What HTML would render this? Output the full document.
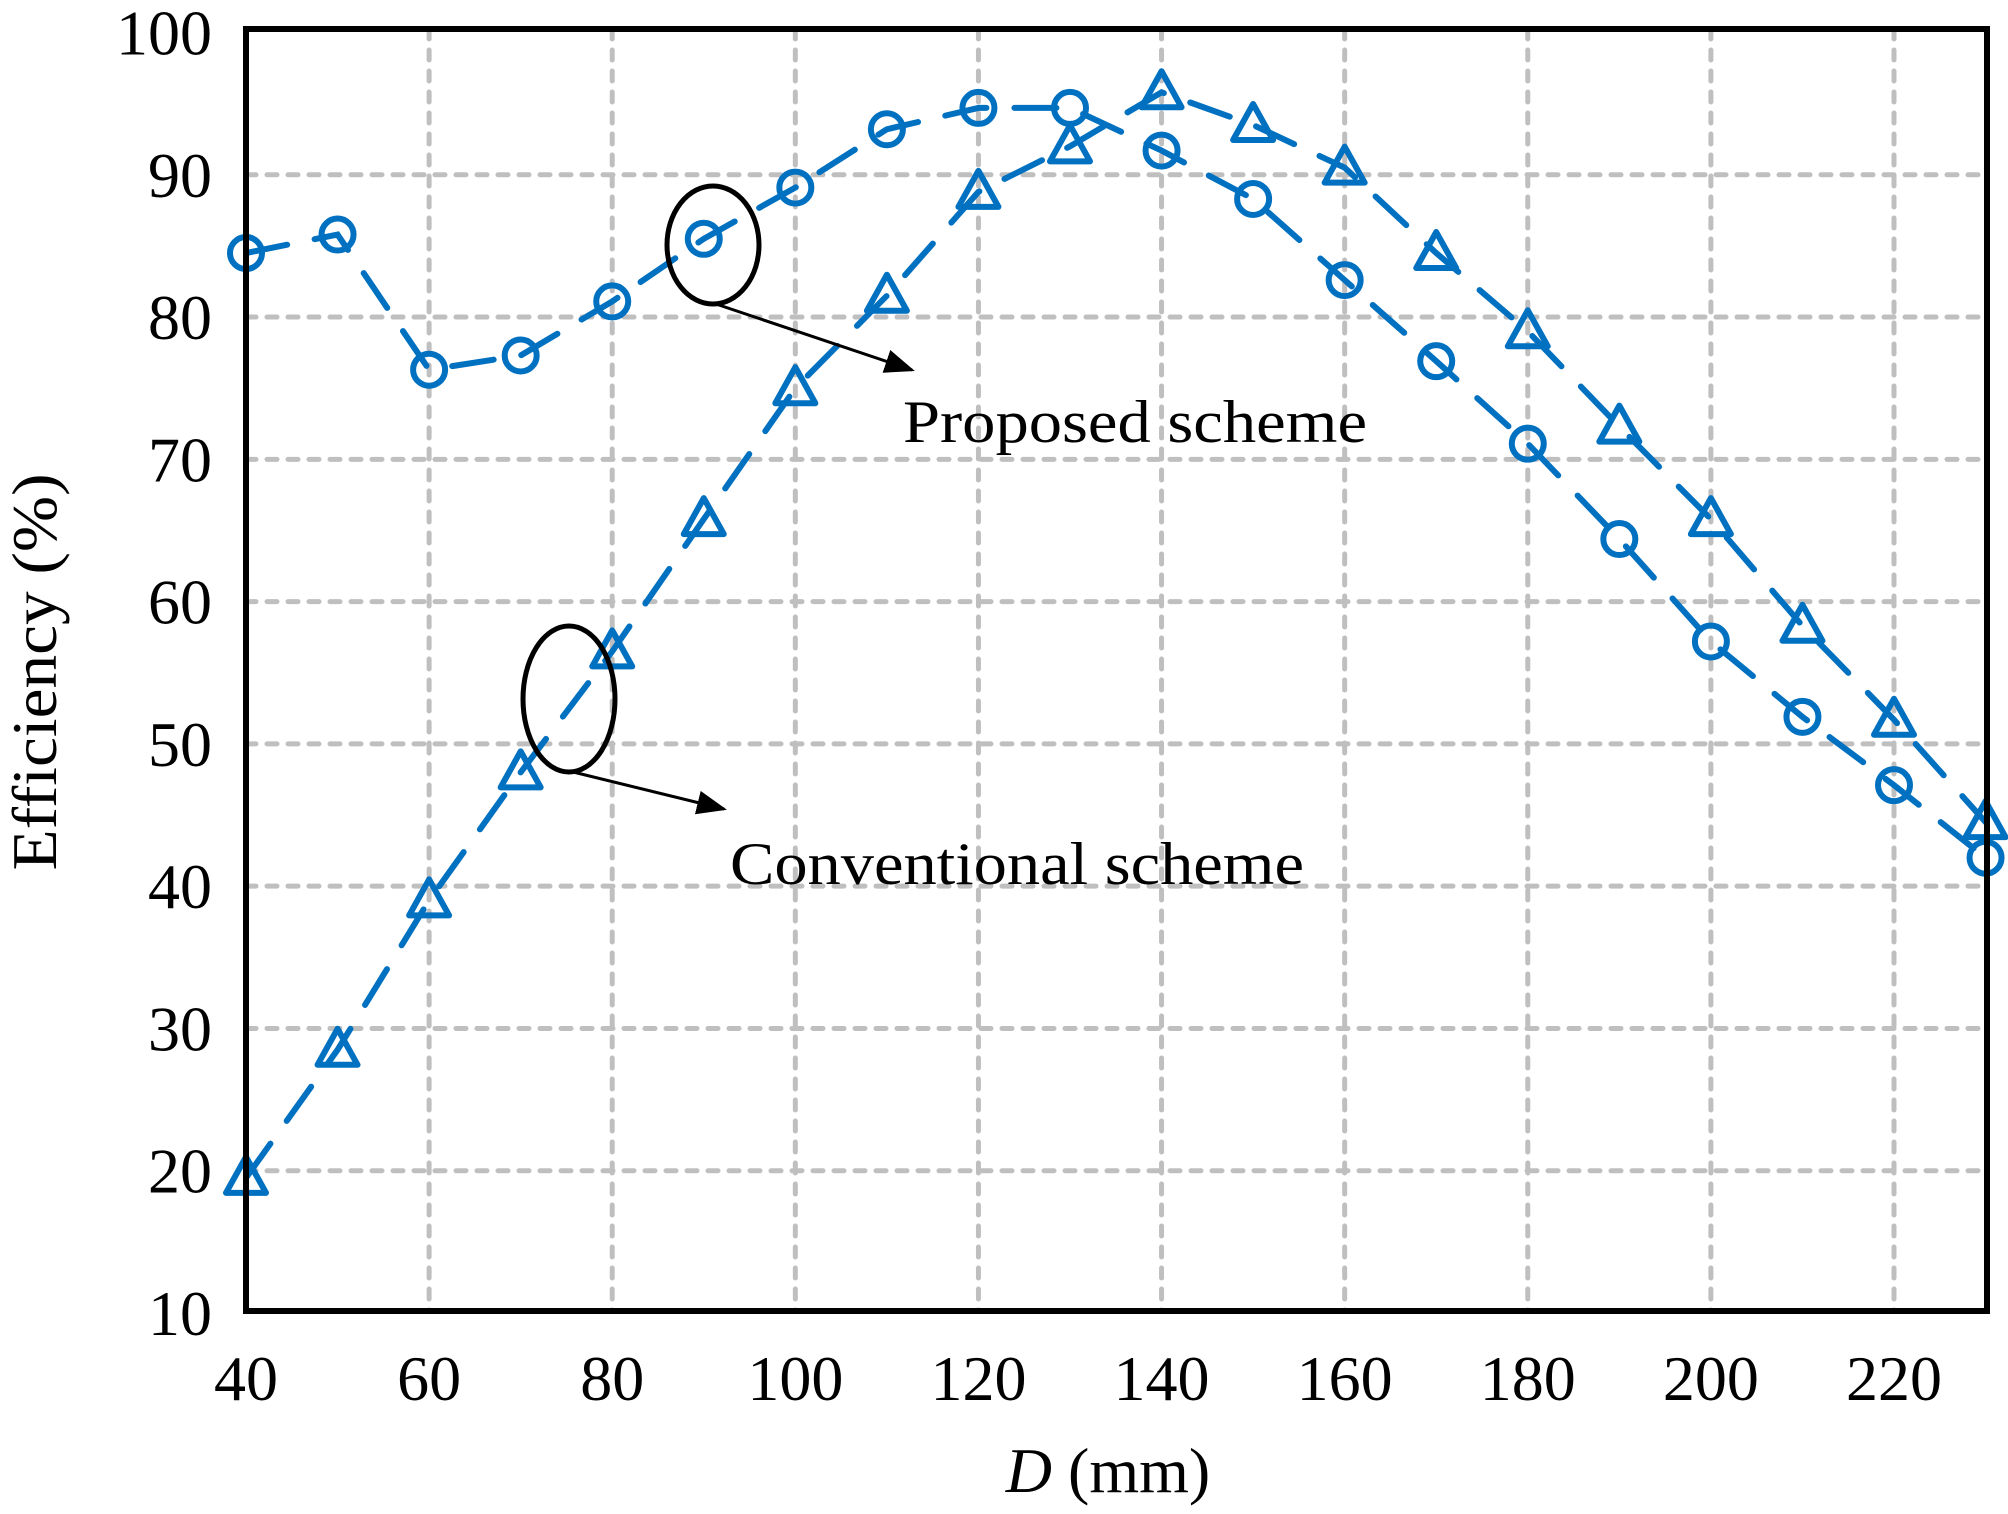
<!DOCTYPE html>
<html><head><meta charset="utf-8"><style>
html,body{margin:0;padding:0;background:#fff;}
svg{display:block;font-family:"Liberation Serif",serif;}
</style></head><body>
<svg id="chart" width="2008" height="1514" viewBox="0 0 2008 1514" xmlns="http://www.w3.org/2000/svg">
<g id="grid"></g>
<g id="series"></g>
<rect x="246" y="29" width="1741" height="1282" fill="none" stroke="#000" stroke-width="6"/>
<g id="ticks" font-size="64"></g>
<text x="1108" y="1492" font-size="64" text-anchor="middle"><tspan font-style="italic">D</tspan> (mm)</text>
<text transform="translate(56,672) rotate(-90)" font-size="64" text-anchor="middle" textLength="397" lengthAdjust="spacingAndGlyphs">Efficiency (%)</text>
<g>
<defs><marker id="ah" markerWidth="10" markerHeight="8" refX="9" refY="4" orient="auto" markerUnits="strokeWidth"><path d="M0,0 L10,4 L0,8 z" fill="#000"/></marker></defs>
<ellipse cx="713" cy="245" rx="46" ry="59" fill="none" stroke="#000" stroke-width="5"/>
<line x1="713" y1="303" x2="912" y2="370" stroke="#000" stroke-width="3" marker-end="url(#ah)"/>
<text x="903" y="442" font-size="60" textLength="464" lengthAdjust="spacingAndGlyphs">Proposed scheme</text>
<ellipse cx="569" cy="699" rx="46" ry="73" fill="none" stroke="#000" stroke-width="5"/>
<line x1="569" y1="771" x2="724" y2="809" stroke="#000" stroke-width="3" marker-end="url(#ah)"/>
<text x="730" y="884" font-size="60" textLength="574" lengthAdjust="spacingAndGlyphs">Conventional scheme</text>
</g>
</svg>
<script>
const xValues = [40,50,60,70,80,90,100,110,120,130,140,150,160,170,180,190,200,210,220,230];
const proposed = [84.5,85.8,76.3,77.3,81.1,85.5,89.1,93.2,94.7,94.7,91.7,88.3,82.6,76.9,71.1,64.4,57.2,51.9,47.1,42];
const conventional = [19.5,28.5,39,48,56.5,65.8,75,81.5,88.8,92,95.8,93.5,90.5,84.5,79,72.3,65.8,58.3,51.7,44.5];
const xTicks = [40,60,80,100,120,140,160,180,200,220];
const yTicks = [10,20,30,40,50,60,70,80,90,100];

const NS = "http://www.w3.org/2000/svg";
const X0 = 246, XPER = (1894-246)/180;
const sx = v => X0 + (v-40)*XPER;
const sy = v => 1313 - (v-10)*(1313-32.5)/90;
const L = 246, R = 1987, T = 29, B = 1311;
function mk(tag, attrs, parent){const e=document.createElementNS(NS,tag);for(const k in attrs)e.setAttribute(k,attrs[k]);parent.appendChild(e);return e;}
const grid = document.getElementById('grid');
xTicks.forEach(t=>{ if(t===40) return;
  const l = mk('line',{x1:sx(t),x2:sx(t),y1:T,y2:B,stroke:'#bfbfbf','stroke-width':5,'stroke-dasharray':'10 11','stroke-linecap':'round'},grid);
  
  
});
yTicks.forEach(t=>{ if(t===10||t===100) return;
  const l = mk('line',{x1:L,x2:R,y1:sy(t),y2:sy(t),stroke:'#bfbfbf','stroke-width':5,'stroke-dasharray':'10 11','stroke-linecap':'round'},grid);
  
  
});
const ticks = document.getElementById('ticks');
xTicks.forEach(t=>{
  const e = mk('text',{x:sx(t),y:1400,'text-anchor':'middle'},ticks); e.textContent=t;
  
  
});
yTicks.forEach(t=>{
  const e = mk('text',{x:212,y:sy(t)+22,'text-anchor':'end'},ticks); e.textContent=t;
  
  
});
const series = document.getElementById('series');
const C = '#0070c0';
function drawSeries(vals, name, marker){
  const g = mk('g',{},series);
  
  
  const pts = vals.map((v,i)=>sx(xValues[i])+','+sy(v)).join(' ');
  const pl = mk('polyline',{points:pts,fill:'none',stroke:C,'stroke-width':6,'stroke-dasharray':'42 28','stroke-linecap':'round'},g);
  
  
  vals.forEach((v,i)=>{
    const x=sx(xValues[i]), y=sy(v);
    let m;
    if(marker==='circle') m = mk('circle',{cx:x,cy:y,r:16,fill:'none',stroke:C,'stroke-width':6},g);
    else m = mk('polygon',{points:`${x},${y-21} ${x+20},${y+15} ${x-20},${y+15}`,fill:'none',stroke:C,'stroke-width':6,'stroke-linejoin':'round'},g);
    
    
  });
}
drawSeries(proposed,'proposed','circle');
drawSeries(conventional,'conventional','triangle');
</script>
</body></html>
